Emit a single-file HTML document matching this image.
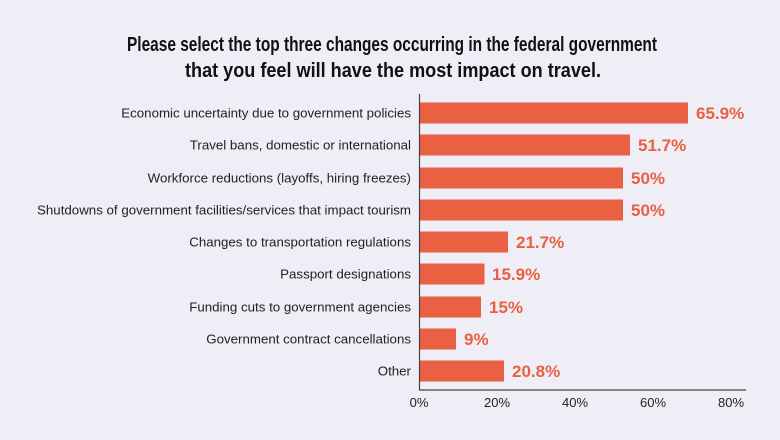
<!DOCTYPE html>
<html><head><meta charset="utf-8"><style>
body{margin:0;background:#efedf5;}
svg{display:block;}
</style></head><body>
<svg width="780" height="440" viewBox="0 0 780 440" xmlns="http://www.w3.org/2000/svg">
<rect width="780" height="440" fill="#efedf5"/>
<g font-family="'Liberation Sans',sans-serif" font-weight="bold" font-size="20" fill="#111">
<text x="127" y="51" textLength="530" lengthAdjust="spacingAndGlyphs">Please select the top three changes occurring in the federal government</text>
<text x="185" y="77" textLength="416" lengthAdjust="spacingAndGlyphs">that you feel will have the most impact on travel.</text>
</g>
<g font-family="'Liberation Sans',sans-serif" font-size="13.3" fill="#222" text-anchor="end">
<text x="411" y="117.5">Economic uncertainty due  to government policies</text>
<text x="411" y="149.5">Travel bans, domestic or international</text>
<text x="411" y="182.5">Workforce reductions (layoffs, hiring freezes)</text>
<text x="411" y="214.5">Shutdowns of government facilities/services that impact tourism</text>
<text x="411" y="246.5">Changes to transportation regulations</text>
<text x="411" y="278.5">Passport designations</text>
<text x="411" y="311.5">Funding cuts to government agencies</text>
<text x="411" y="343.5">Government contract cancellations</text>
<text x="411" y="375.5">Other</text>
</g>
<g fill="#e96042">
<rect x="420" y="102.5" width="268" height="21"/>
<rect x="420" y="134.5" width="210" height="21"/>
<rect x="420" y="167.5" width="203" height="21"/>
<rect x="420" y="199.5" width="203" height="21"/>
<rect x="420" y="231.5" width="88" height="21"/>
<rect x="420" y="263.5" width="64.5" height="21"/>
<rect x="420" y="296.5" width="61" height="21"/>
<rect x="420" y="328.5" width="36" height="21"/>
<rect x="420" y="360.5" width="84" height="21"/>
</g>
<g font-family="'Liberation Sans',sans-serif" font-weight="bold" font-size="17" fill="#e96042">
<text x="696" y="119">65.9%</text>
<text x="638" y="151">51.7%</text>
<text x="631" y="184">50%</text>
<text x="631" y="216">50%</text>
<text x="516" y="248">21.7%</text>
<text x="492" y="280">15.9%</text>
<text x="489" y="313">15%</text>
<text x="464" y="345">9%</text>
<text x="512" y="377">20.8%</text>
</g>
<line x1="419.5" y1="94" x2="419.5" y2="390" stroke="#444" stroke-width="1.2"/>
<line x1="419" y1="390" x2="746" y2="390" stroke="#444" stroke-width="1.2"/>
<g font-family="'Liberation Sans',sans-serif" font-size="13" fill="#222" text-anchor="middle">
<text x="419" y="407">0%</text>
<text x="497" y="407">20%</text>
<text x="575" y="407">40%</text>
<text x="653" y="407">60%</text>
<text x="731" y="407">80%</text>
</g>
</svg>
</body></html>
